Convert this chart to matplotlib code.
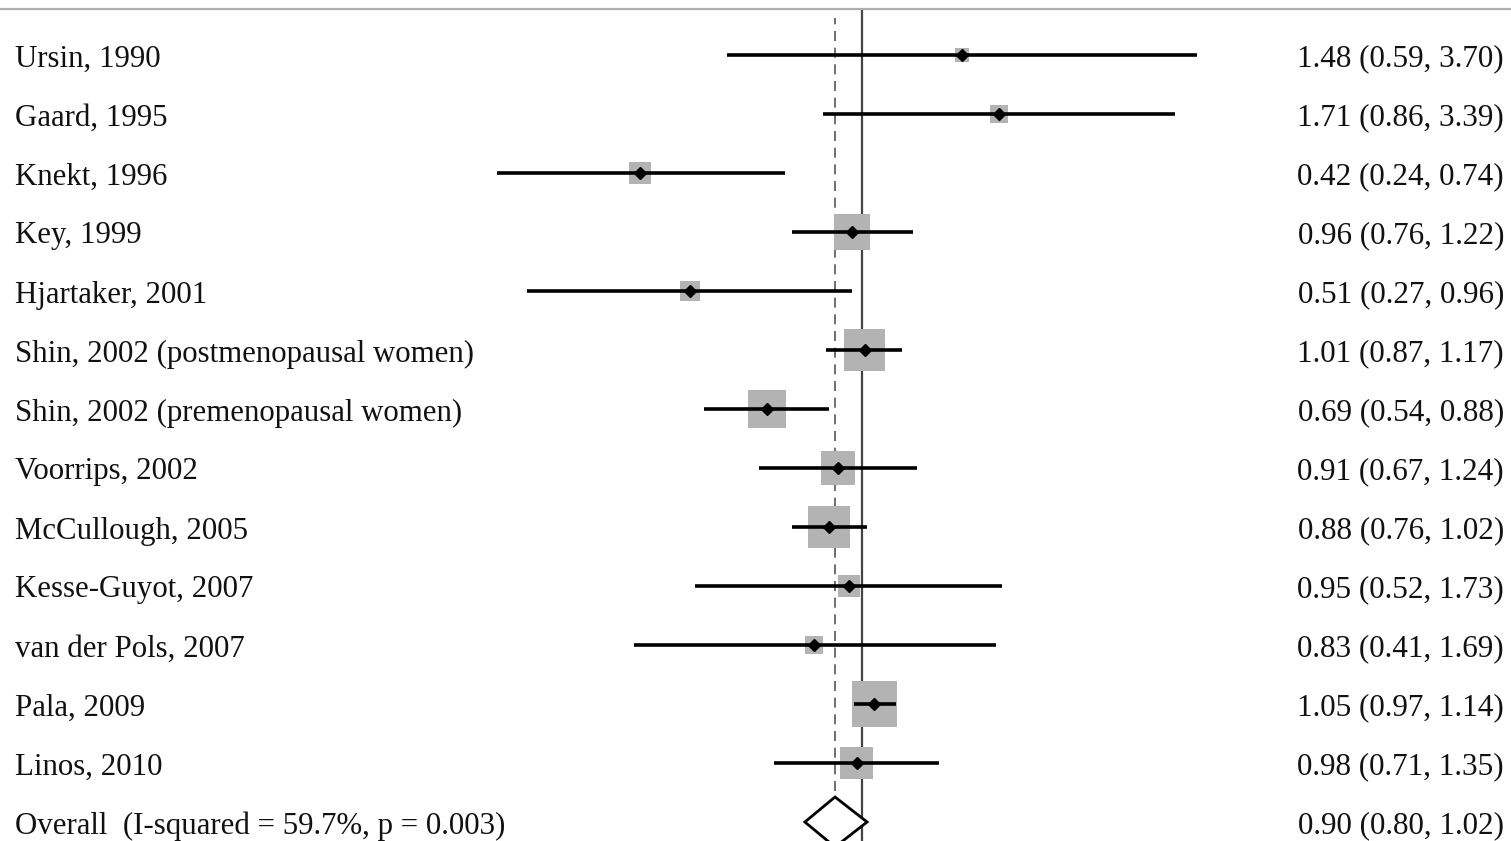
import matplotlib.pyplot as plt
import numpy as np
from matplotlib.patches import Polygon

# data
studies = ["Ursin, 1990", "Gaard, 1995", "Knekt, 1996", "Key, 1999", "Hjartaker, 2001",
           "Shin, 2002 (postmenopausal women)", "Shin, 2002 (premenopausal women)",
           "Voorrips, 2002", "McCullough, 2005", "Kesse-Guyot, 2007", "van der Pols, 2007",
           "Pala, 2009", "Linos, 2010"]
rr = [1.48, 1.71, 0.42, 0.96, 0.51, 1.01, 0.69, 0.91, 0.88, 0.95, 0.83, 1.05, 0.98]
lower = [0.59, 0.86, 0.24, 0.76, 0.27, 0.87, 0.54, 0.67, 0.76, 0.52, 0.41, 0.97, 0.71]
upper = [3.70, 3.39, 0.74, 1.22, 0.96, 1.17, 0.88, 1.24, 1.02, 1.73, 1.69, 1.14, 1.35]
weights = [1.5, 2.5, 3.8, 10.1, 3.1, 13.7, 11.2, 9.0, 13.7, 3.8, 2.5, 16.5, 8.5]

overall_label = "Overall  (I-squared = 59.7%, p = 0.003)"
overall = (0.90, 0.80, 1.02)

plt.rcParams['font.family'] = ['Liberation Serif', 'DejaVu Serif']

W, H = 1511, 841
fig = plt.figure(figsize=(W / 100, H / 100), dpi=100)
ax = fig.add_axes([0, 0, 1, 1])
ax.set_xscale('log')

# pixel mapping: x=1 at px 862, 256 px per ln unit; row r at px 55 + 59 r
x0, k = 862, 256.0
px_per_row = 59.0
ax.set_xlim(np.exp(-x0 / k), np.exp((W - x0) / k))
ax.set_ylim((H - 55) / px_per_row, -55 / px_per_row)
ax.axis('off')

n = len(studies)
ypos = np.arange(n)

# reference lines
ax.axvline(1.0, ymin=0, ymax=1 - 10 / H, color='#444444', lw=1.6, zorder=1)
ax.axvline(overall[0], ymin=0, ymax=1 - 18 / H, color='#555555', lw=1.2,
           ls=(0, (6, 4)), zorder=1)
fig.add_artist(plt.Line2D([0, 1], [1 - 9 / H, 1 - 9 / H], color='#b0b0b0', lw=1.6))

# weight boxes (area ~ weight)
for y, est, w in zip(ypos, rr, weights):
    side = 11.3 * np.sqrt(w)
    lx = np.log(est)
    half = side / 2 / k
    rect = plt.Rectangle((np.exp(lx - half), y - side / 2 / px_per_row),
                         np.exp(lx + half) - np.exp(lx - half), side / px_per_row,
                         facecolor='#b3b3b3', edgecolor='none', zorder=2)
    ax.add_patch(rect)

ax.hlines(ypos, lower, upper, color='black', lw=2.6, zorder=3)
ax.plot(rr, ypos, 'D', color='black', ms=6.5, zorder=4)

# overall diamond
yo = n
hh = 25 / px_per_row
diamond = Polygon([(overall[1], yo), (overall[0], yo - hh), (overall[2], yo), (overall[0], yo + hh)],
                  closed=True, facecolor='white', edgecolor='black', lw=2.0, zorder=3)
ax.add_patch(diamond)

# labels
labels = studies + [overall_label]
ests = list(zip(rr, lower, upper)) + [overall]
dy = 4 / px_per_row
for y, lab, (e, lo, hi) in zip(range(n + 1), labels, ests):
    ax.text(15 / W, y + dy, lab, transform=ax.get_yaxis_transform(), ha='left', va='center',
            fontsize=22.2, color='#111111')
    ax.text(1504 / W, y + dy, f"{e:.2f} ({lo:.2f}, {hi:.2f})", transform=ax.get_yaxis_transform(),
            ha='right', va='center', fontsize=22.4, color='#111111')

fig.savefig('out.png', dpi=100)
